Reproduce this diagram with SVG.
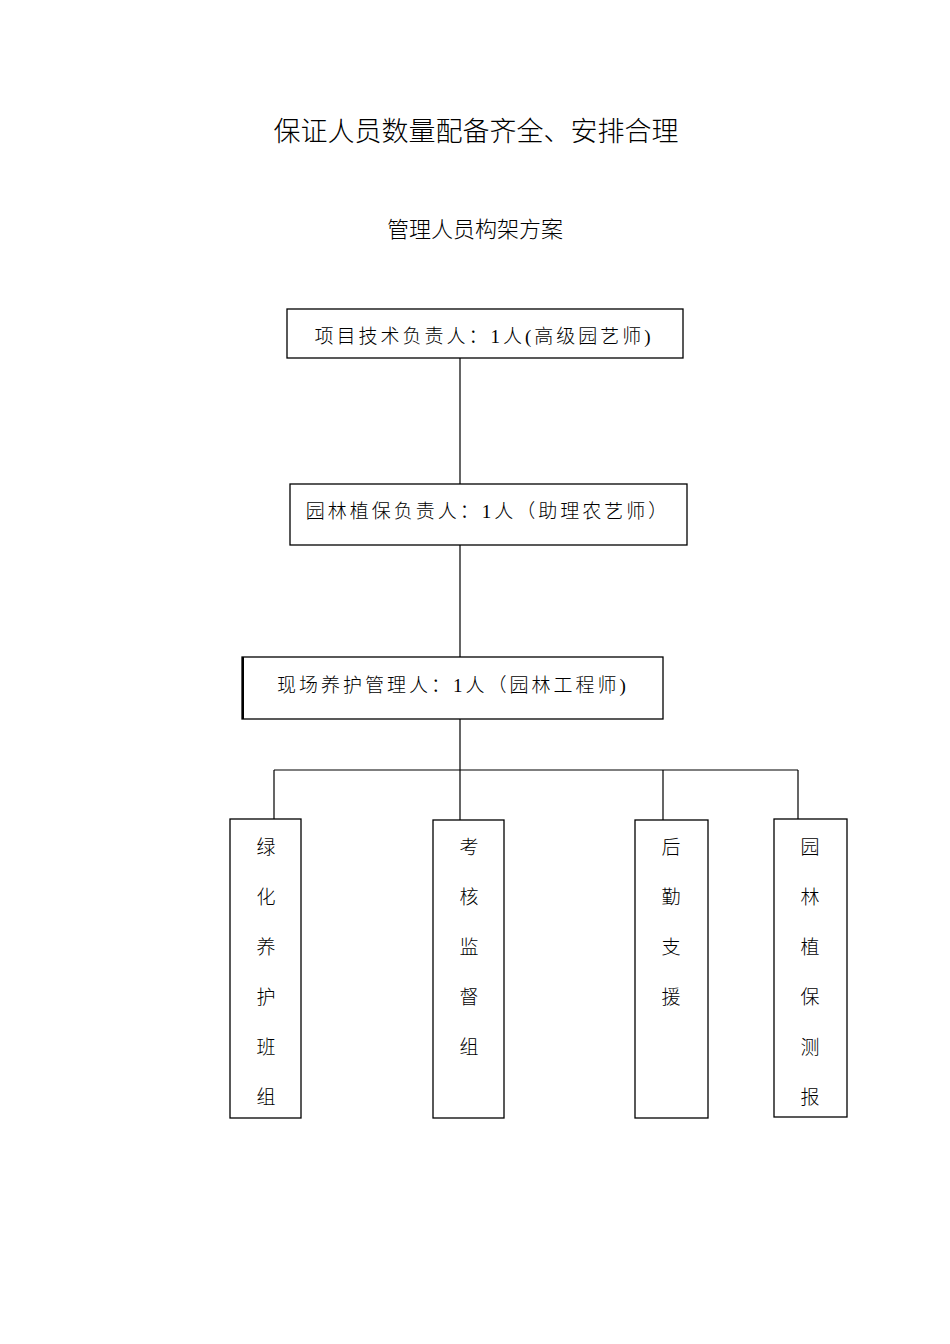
<svg xmlns="http://www.w3.org/2000/svg" width="950" height="1344" viewBox="0 0 950 1344">
<style>
text{font-family:"Liberation Serif","Noto Sans CJK SC",serif;fill:#000;font-weight:300}
.box{fill:#fff;stroke:#000;stroke-width:1.3}
.ln{stroke:#000;stroke-width:1.2;fill:none}
.t{font-size:19px;text-anchor:middle;letter-spacing:3px}
.v{font-size:19px;text-anchor:middle}
</style>
<rect width="950" height="1344" fill="#fff"/>
<text x="476" y="141" style="font-size:27px;text-anchor:middle">保证人员数量配备齐全、安排合理</text>
<text x="475" y="237" style="font-size:22px;text-anchor:middle">管理人员构架方案</text>
<g id="connectors">
<path class="ln" d="M460 358V484M460 545V657M460 719V770M274 770H798M274 770V819M663 770V820M798 770V819M460 770V820"/>
</g>
<g id="n1"><rect class="box" x="287" y="309" width="396" height="49"/><text class="t" x="484" y="343">项目技术负责人：1人(高级园艺师)</text></g>
<g id="n2"><rect class="box" x="290" y="484" width="397" height="61"/><text class="t" x="488" y="518">园林植保负责人：1人（助理农艺师）</text></g>
<g id="n3"><rect class="box" x="242" y="657" width="421" height="62"/><line x1="243" y1="657" x2="243" y2="719" stroke="#000" stroke-width="2"/><text class="t" x="453" y="692">现场养护管理人：1人（园林工程师)</text></g>
<g id="n4"><rect class="box" x="230" y="819" width="71" height="299"/>
<text class="v" x="266" y="854">绿</text><text class="v" x="266" y="904">化</text><text class="v" x="266" y="954">养</text><text class="v" x="266" y="1004">护</text><text class="v" x="266" y="1054">班</text><text class="v" x="266" y="1104">组</text></g>
<g id="n5"><rect class="box" x="433" y="820" width="71" height="298"/>
<text class="v" x="469" y="854">考</text><text class="v" x="469" y="904">核</text><text class="v" x="469" y="954">监</text><text class="v" x="469" y="1004">督</text><text class="v" x="469" y="1054">组</text></g>
<g id="n6"><rect class="box" x="635" y="820" width="73" height="298"/>
<text class="v" x="671" y="854">后</text><text class="v" x="671" y="904">勤</text><text class="v" x="671" y="954">支</text><text class="v" x="671" y="1004">援</text></g>
<g id="n7"><rect class="box" x="774" y="819" width="73" height="298"/>
<text class="v" x="810" y="854">园</text><text class="v" x="810" y="904">林</text><text class="v" x="810" y="954">植</text><text class="v" x="810" y="1004">保</text><text class="v" x="810" y="1054">测</text><text class="v" x="810" y="1104">报</text></g>
</svg>
